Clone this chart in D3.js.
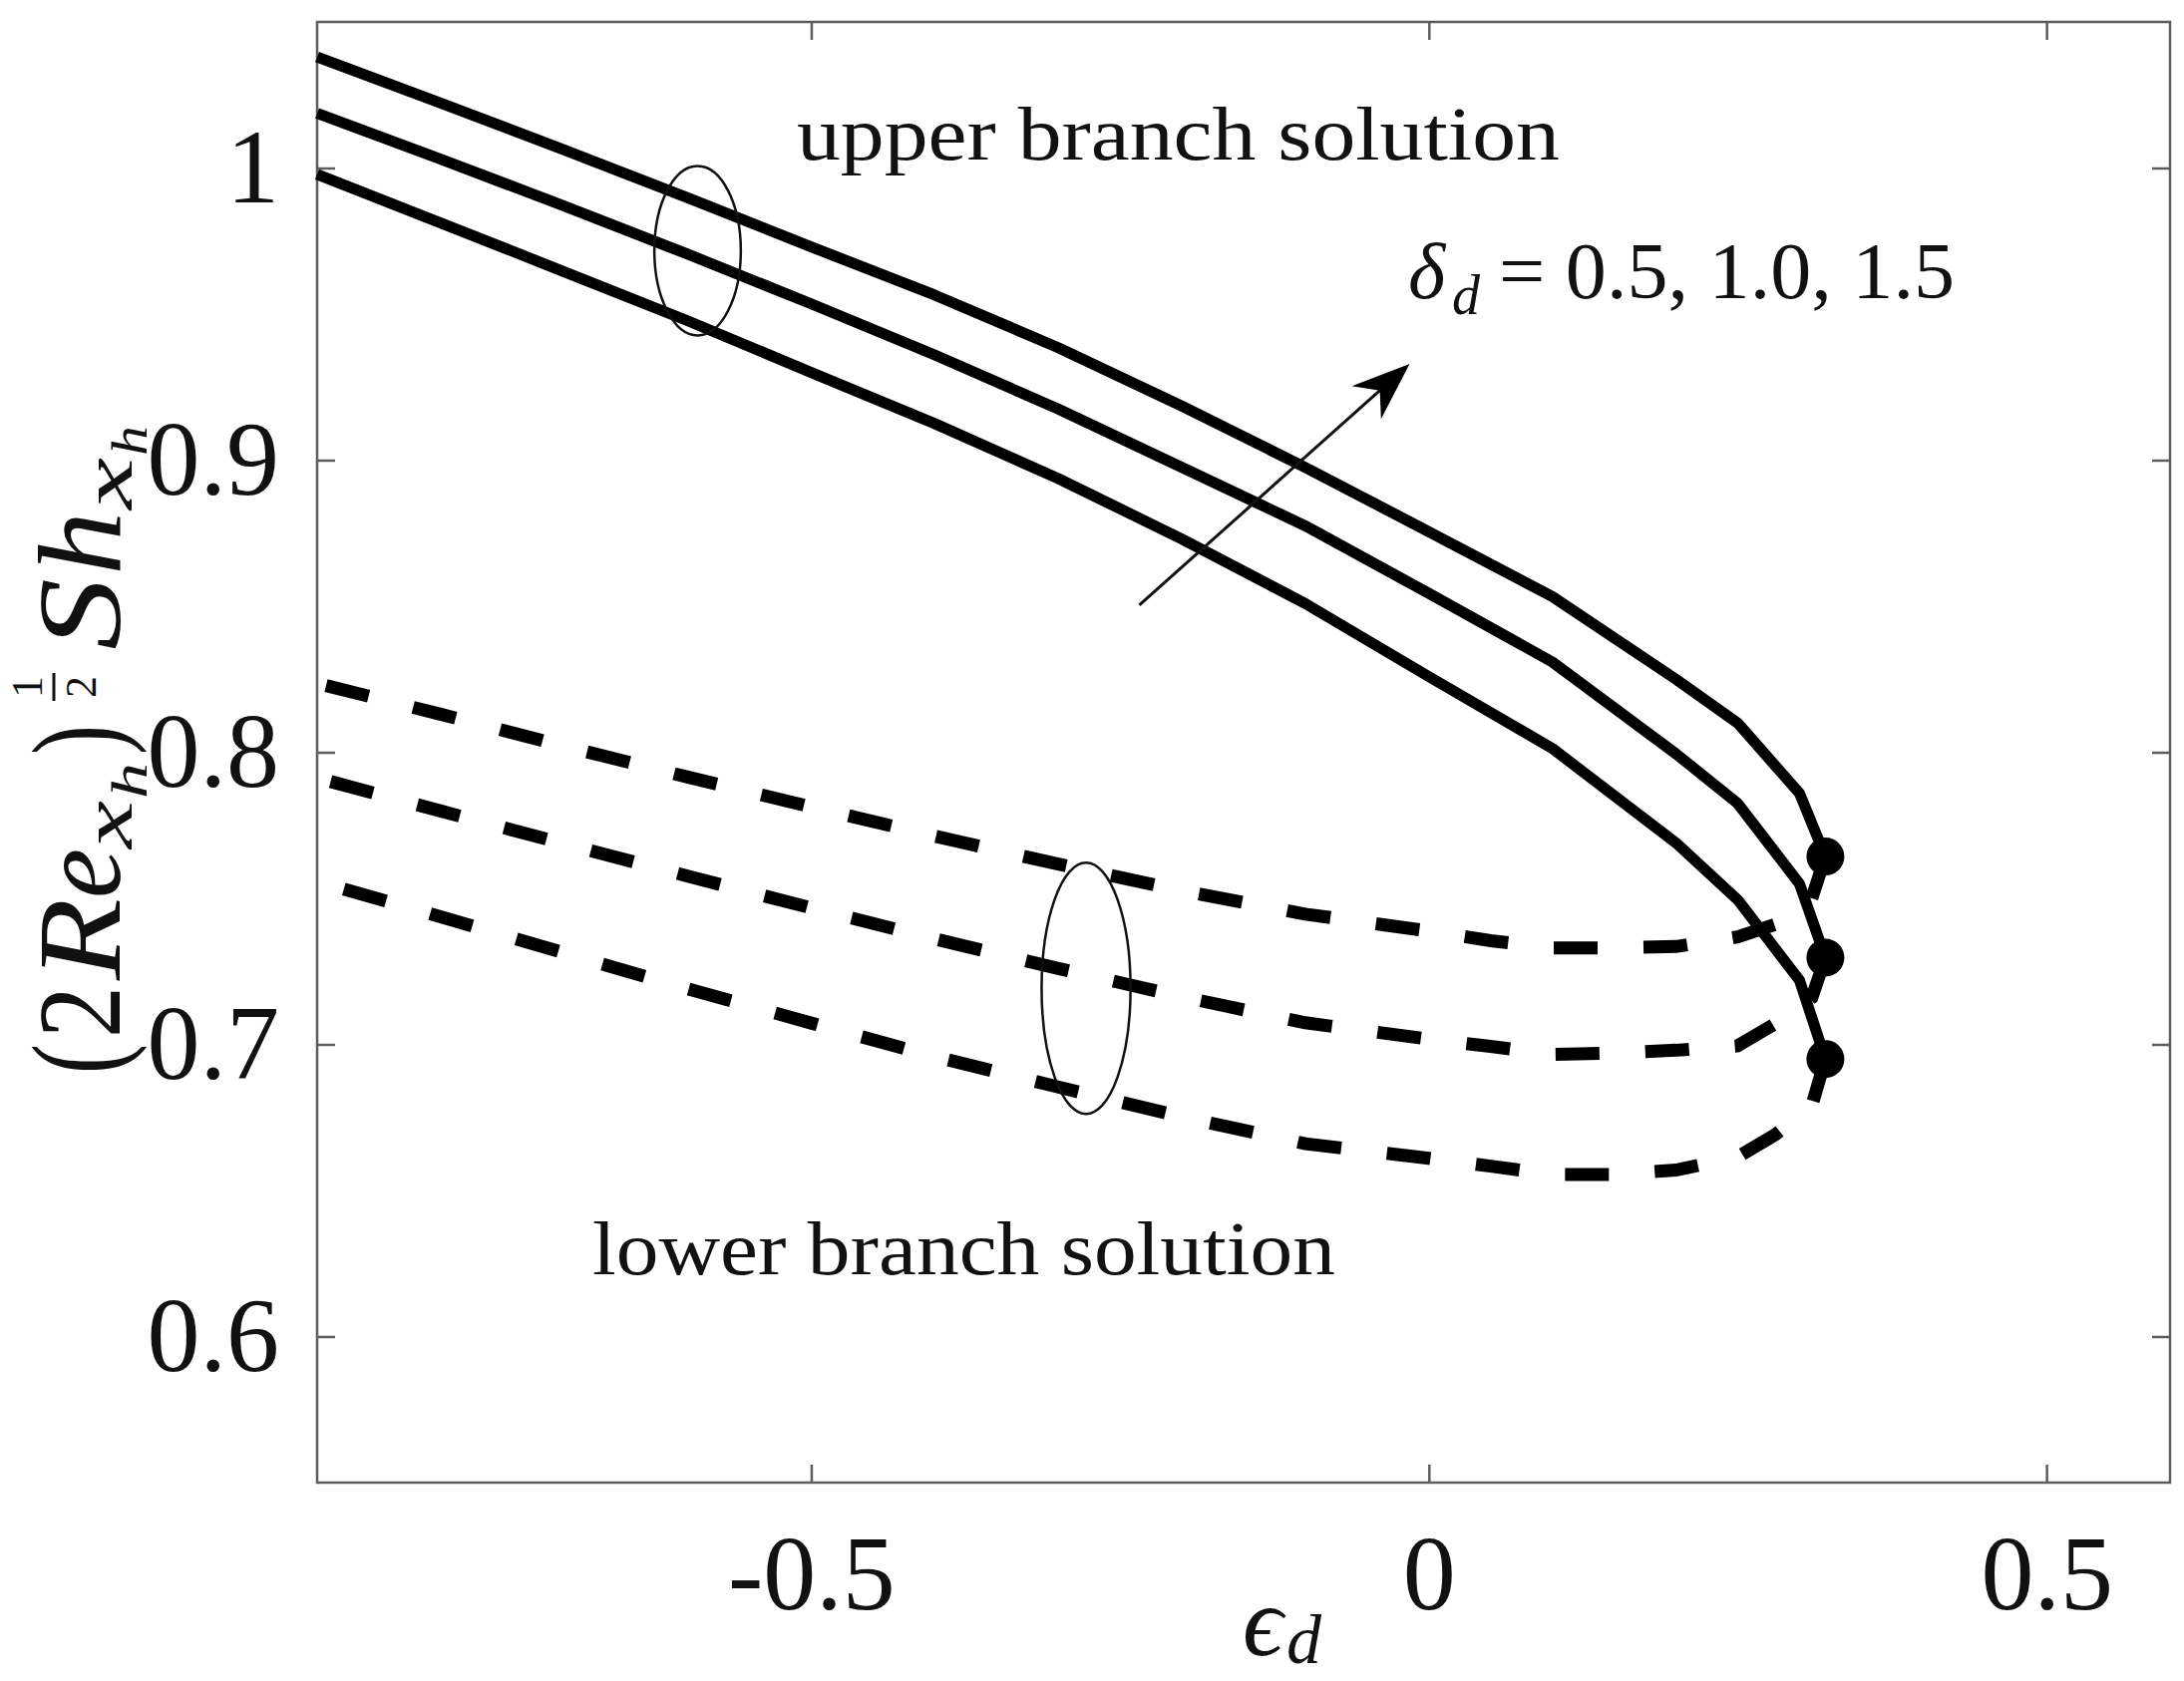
<!DOCTYPE html>
<html>
<head>
<meta charset="utf-8">
<script src="https://cdn.jsdelivr.net/npm/d3@7"></script>
<style>
  body { margin: 0; background: #fff; }
  text { font-family: "Liberation Serif", "DejaVu Serif", serif; fill: #111; }
</style>
</head>
<body>
<svg id="chart"></svg>
<script>
// values
var epsUpper = [-0.9, -0.8, -0.7, -0.6, -0.5, -0.4, -0.3, -0.2, -0.1, 0, 0.1, 0.2, 0.25, 0.3, 0.321];
var upper05 = [0.9978, 0.9812, 0.9645, 0.9477, 0.930, 0.9125, 0.8937, 0.873, 0.8509, 0.8259, 0.8013, 0.769, 0.7495, 0.722, 0.695];
var upper10 = [1.0187, 1.003, 0.987, 0.9705, 0.9535, 0.936, 0.9175, 0.8975, 0.8775, 0.8544, 0.8309, 0.7995, 0.7825, 0.755, 0.7297];
var upper15 = [1.038, 1.0222, 1.0062, 0.9898, 0.973, 0.9565, 0.9385, 0.9185, 0.8975, 0.8755, 0.8533, 0.825, 0.810, 0.786, 0.7643];

// lower branch, traced from the turning point back to the left edge
var epsLower = [0.321, 0.31, 0.28, 0.25, 0.2, 0.15, 0.1, 0.05, 0, -0.1, -0.2, -0.3, -0.4, -0.5, -0.6, -0.7, -0.8, -0.9];
var lower05 = [0.695, 0.679, 0.669, 0.6615, 0.657, 0.6555, 0.6555, 0.6583, 0.661, 0.666, 0.6752, 0.6854, 0.6958, 0.7073, 0.719, 0.7313, 0.7437, 0.7558];
var lower10 = [0.7297, 0.716, 0.707, 0.6995, 0.698, 0.697, 0.6966, 0.6993, 0.7018, 0.7074, 0.7163, 0.726, 0.7361, 0.7467, 0.7576, 0.7687, 0.7799, 0.7912];
var lower15 = [0.7643, 0.750, 0.741, 0.7368, 0.7335, 0.733, 0.733, 0.7355, 0.7388, 0.7446, 0.7526, 0.7617, 0.7713, 0.7813, 0.7915, 0.8021, 0.813, 0.8236];

var deltaValues = ["0.5", "1.0", "1.5"];
var xTicks = [-0.5, 0, 0.5];
var xTickLabels = ["-0.5", "0", "0.5"];
var yTicks = [0.6, 0.7, 0.8, 0.9, 1];
var yTickLabels = ["0.6", "0.7", "0.8", "0.9", "1"];

var W = 2190, H = 1686;
var margin = {left: 318, right: W - 2176, top: 22, bottom: H - 1487};
var axisColor = "#5c5c5c";

var svg = d3.select("#chart").attr("width", W).attr("height", H);

var x = d3.scaleLinear().domain([-0.9, 0.6]).range([margin.left, W - margin.right]);
var y = d3.scaleLinear().domain([0.55, 1.05]).range([H - margin.bottom, margin.top]);

function zip(xs, ys) {
  return xs.map(function(v, i) { return [v, ys[i]]; });
}

var line = d3.line()
  .x(function(d) { return x(d[0]); })
  .y(function(d) { return y(d[1]); });

// axes: a box with inward ticks on all four sides
function styleAxis(g) {
  g.select(".domain").remove();
  g.selectAll(".tick line").attr("stroke", axisColor).attr("stroke-width", 2.5);
  g.selectAll(".tick text").attr("fill", "#111")
    .style("font-family", '"Liberation Serif", "DejaVu Serif", serif')
    .style("font-size", "106px");
}

svg.append("g")
  .attr("transform", "translate(0," + y.range()[0] + ")")
  .call(d3.axisBottom(x).tickValues(xTicks).tickSizeInner(-18).tickSizeOuter(0).tickPadding(52)
    .tickFormat(function(d, i) { return xTickLabels[i]; }))
  .call(styleAxis);

svg.append("g")
  .attr("transform", "translate(" + x.range()[0] + ",0)")
  .call(d3.axisLeft(y).tickValues(yTicks).tickSizeInner(-18).tickSizeOuter(0).tickPadding(38)
    .tickFormat(function(d, i) { return yTickLabels[i]; }))
  .call(styleAxis);

svg.append("g")
  .attr("transform", "translate(0," + y.range()[1] + ")")
  .call(d3.axisTop(x).tickValues(xTicks).tickSizeInner(-18).tickSizeOuter(0).tickFormat(""))
  .call(styleAxis);

svg.append("g")
  .attr("transform", "translate(" + x.range()[1] + ",0)")
  .call(d3.axisRight(y).tickValues(yTicks).tickSizeInner(-18).tickSizeOuter(0).tickFormat(""))
  .call(styleAxis);

svg.append("rect")
  .attr("x", x.range()[0]).attr("y", y.range()[1])
  .attr("width", x.range()[1] - x.range()[0])
  .attr("height", y.range()[0] - y.range()[1])
  .attr("fill", "none").attr("stroke", axisColor).attr("stroke-width", 2.5);

// lower branch (dashed)
[lower05, lower10, lower15].forEach(function(vals) {
  svg.append("path")
    .datum(zip(epsLower, vals))
    .attr("d", line)
    .attr("fill", "none")
    .attr("stroke", "#000")
    .attr("stroke-width", 13)
    .attr("stroke-dasharray", "44,46");
});

// upper branch (solid)
[upper05, upper10, upper15].forEach(function(vals) {
  svg.append("path")
    .datum(zip(epsUpper, vals))
    .attr("d", line)
    .attr("fill", "none")
    .attr("stroke", "#000")
    .attr("stroke-width", 11)
    .attr("stroke-linejoin", "round");
});

// turning points
svg.selectAll("circle.crit")
  .data([upper05, upper10, upper15].map(function(v) { return [epsUpper[epsUpper.length - 1], v[v.length - 1]]; }))
  .enter().append("circle")
  .attr("class", "crit")
  .attr("cx", function(d) { return x(d[0]); })
  .attr("cy", function(d) { return y(d[1]); })
  .attr("r", 19)
  .attr("fill", "#000");

// ellipses grouping the curves
var ellipses = [
  {cx: -0.592, cy: 0.9717, rx: 0.035, ry: 0.029},
  {cx: -0.2775, cy: 0.7192, rx: 0.036, ry: 0.043}
];
svg.selectAll("ellipse")
  .data(ellipses)
  .enter().append("ellipse")
  .attr("cx", function(d) { return x(d.cx); })
  .attr("cy", function(d) { return y(d.cy); })
  .attr("rx", function(d) { return x(d.cx + d.rx) - x(d.cx); })
  .attr("ry", function(d) { return y(d.cy - d.ry) - y(d.cy); })
  .attr("fill", "none")
  .attr("stroke", "#111")
  .attr("stroke-width", 2.5);

// arrow for increasing delta_d
var a0 = [x(-0.2344), y(0.8504)], a1 = [x(-0.0156), y(0.9329)];
var dx = a1[0] - a0[0], dy = a1[1] - a0[1], len = Math.sqrt(dx * dx + dy * dy);
var ux = dx / len, uy = dy / len, nx = -uy, ny = ux;
var headL = 58, headW = 22, notch = 40;
svg.append("line")
  .attr("x1", a0[0]).attr("y1", a0[1])
  .attr("x2", a1[0] - ux * notch).attr("y2", a1[1] - uy * notch)
  .attr("stroke", "#111").attr("stroke-width", 3);
svg.append("path")
  .attr("d", "M" + a1[0] + "," + a1[1] +
    "L" + (a1[0] - ux * headL + nx * headW) + "," + (a1[1] - uy * headL + ny * headW) +
    "L" + (a1[0] - ux * notch) + "," + (a1[1] - uy * notch) +
    "L" + (a1[0] - ux * headL - nx * headW) + "," + (a1[1] - uy * headL - ny * headW) + "Z")
  .attr("fill", "#000");

// text annotations
svg.append("text")
  .attr("x", x(-0.5117)).attr("y", y(1.0029))
  .attr("textLength", 765).attr("lengthAdjust", "spacingAndGlyphs")
  .style("font-size", "77px")
  .text("upper branch solution");

svg.append("text")
  .attr("x", x(-0.6772)).attr("y", y(0.6213))
  .attr("textLength", 745).attr("lengthAdjust", "spacingAndGlyphs")
  .style("font-size", "77px")
  .text("lower branch solution");

var dx0 = x(-0.0168), dyb = y(0.9555);
svg.append("text").attr("x", dx0).attr("y", dyb)
  .style("font-size", "80px").style("font-style", "italic").text("δ");
svg.append("text").attr("x", dx0 + 44).attr("y", dyb + 16)
  .style("font-size", "56px").style("font-style", "italic").text("d");
svg.append("text").attr("x", dx0 + 91).attr("y", dyb)
  .attr("textLength", 457).attr("lengthAdjust", "spacingAndGlyphs")
  .style("font-size", "80px")
  .text("= " + deltaValues.join(", "));

// x label
svg.append("text").attr("x", 1246).attr("y", 1660)
  .style("font-size", "100px").style("font-style", "italic").text("ϵ");
svg.append("text").attr("x", 1290).attr("y", 1668)
  .style("font-size", "70px").style("font-style", "italic").text("d");

// y label, built piece by piece in a rotated frame
var ylab = svg.append("g").attr("transform", "translate(120,1077) rotate(-90)");
var pieces = [
  {t: "(", x: 0, y: 0, s: 126, w: 30, i: false},
  {t: "2", x: 36, y: 0, s: 118, w: 52, i: false},
  {t: "R", x: 94, y: 0, s: 118, w: 82, i: true},
  {t: "e", x: 176, y: 0, s: 118, w: 50, i: true},
  {t: "x", x: 226, y: 12, s: 72, w: 48, i: true},
  {t: "h", x: 276, y: 27, s: 50, w: 36, i: true},
  {t: ")", x: 320, y: 0, s: 126, w: 30, i: false},
  {t: "S", x: 425, y: 0, s: 118, w: 72, i: true},
  {t: "h", x: 500, y: 0, s: 118, w: 64, i: true},
  {t: "x", x: 566, y: 12, s: 72, w: 52, i: true},
  {t: "h", x: 620, y: 27, s: 50, w: 30, i: true}
];
ylab.selectAll("text")
  .data(pieces)
  .enter().append("text")
  .attr("x", function(d) { return d.x; })
  .attr("y", function(d) { return d.y; })
  .attr("textLength", function(d) { return d.w; })
  .attr("lengthAdjust", "spacingAndGlyphs")
  .style("font-size", function(d) { return d.s + "px"; })
  .style("font-style", function(d) { return d.i ? "italic" : "normal"; })
  .text(function(d) { return d.t; });
// superscript 1/2 as a stacked fraction
ylab.append("text").attr("x", 388).attr("y", -78).attr("text-anchor", "middle")
  .style("font-size", "44px").text("1");
ylab.append("line").attr("x1", 374).attr("x2", 402).attr("y1", -66).attr("y2", -66)
  .attr("stroke", "#111").attr("stroke-width", 3);
ylab.append("text").attr("x", 388).attr("y", -24).attr("text-anchor", "middle")
  .style("font-size", "44px").text("2");
</script>
</body>
</html>
